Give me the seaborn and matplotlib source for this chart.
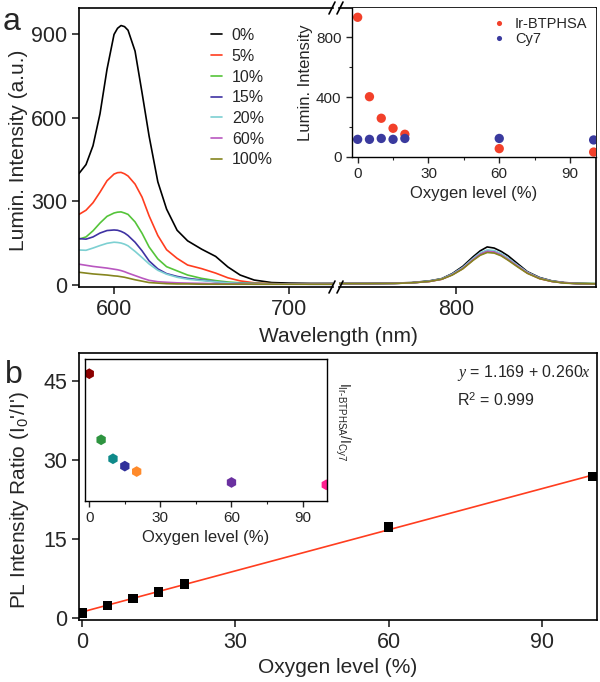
import numpy as np
import pandas as pd
import matplotlib
matplotlib.use('Agg')
import matplotlib.pyplot as plt
import seaborn as sns

sns.set_style('ticks')
plt.rcParams['font.family'] = ['Liberation Sans', 'DejaVu Sans']
plt.rcParams['mathtext.fontset'] = 'custom'
plt.rcParams['mathtext.rm'] = 'Liberation Sans'
plt.rcParams['mathtext.it'] = 'Liberation Serif:italic'
plt.rcParams['axes.linewidth'] = 1.2
plt.rcParams['axes.edgecolor'] = 'black'

# ---- panel a: emission spectra at different O2 levels ----
o2_labels = ['0%', '5%', '10%', '15%', '20%', '60%', '100%']
line_colors = ['#000000', '#ff3d1f', '#55c43a', '#3f32a3', '#7dd0d2', '#b957c0', '#85851f']

wl_left = [580, 584, 588, 592, 596, 600, 602, 604, 606, 608, 612, 616, 620, 625,
           630, 636, 642, 650, 658, 665, 672, 680, 690, 700, 712, 726]
spec_left = {
    '0%':   [400, 432, 500, 615, 775, 900, 922, 932, 928, 915, 840, 690, 535, 370,
             272, 196, 158, 128, 102, 64, 35, 17, 8, 6, 5, 5],
    '5%':   [253, 268, 295, 333, 374, 398, 403, 404, 399, 391, 362, 315, 248, 177,
             126, 95, 71, 58, 42, 25, 14, 7, 4, 3, 3, 3],
    '10%':  [164, 172, 194, 222, 246, 258, 261, 262, 258, 253, 226, 185, 136, 93,
             65, 50, 35, 23, 15, 10, 7, 5, 4, 3, 3, 3],
    '15%':  [166, 164, 172, 186, 195, 197, 196, 192, 186, 177, 153, 122, 86, 57,
             40, 30, 23, 17, 11, 7, 5, 4, 3, 3, 2, 2],
    '20%':  [125, 124, 132, 141, 149, 153, 152, 150, 146, 140, 120, 98, 75, 52,
             38, 27, 20, 15, 11, 7, 5, 4, 3, 3, 2, 2],
    '60%':  [74, 70, 66, 63, 60, 56, 54, 51, 47, 42, 33, 24, 16, 11,
             9, 7, 6, 5, 4, 3, 3, 2, 2, 2, 2, 2],
    '100%': [45, 42, 39, 37, 35, 32, 31, 29, 27, 24, 18, 13, 8, 6,
             4, 3, 3, 2, 2, 2, 2, 2, 2, 2, 2, 2],
}

wl_right = [733, 750, 765, 775, 785, 792, 798, 804, 810, 814, 818, 822,
            826, 830, 835, 841, 848, 855, 862, 870, 880]
spec_right = {
    '0%':   [5, 5, 6, 8, 14, 22, 40, 66, 101, 122, 136, 132, 120, 104, 78, 47, 26, 14, 8, 5, 4],
    '5%':   [4, 4, 5, 7, 12, 20, 36, 58, 90, 108, 118, 116, 106, 90, 68, 42, 22, 12, 7, 4, 3],
    '10%':  [4, 4, 5, 7, 13, 21, 37, 60, 92, 111, 121, 119, 109, 93, 70, 44, 24, 13, 7, 5, 4],
    '15%':  [4, 4, 5, 7, 13, 21, 38, 61, 94, 113, 123, 121, 110, 94, 71, 44, 24, 13, 7, 4, 3],
    '20%':  [4, 4, 5, 7, 13, 21, 38, 62, 95, 115, 125, 123, 112, 95, 72, 45, 24, 13, 7, 4, 3],
    '60%':  [4, 4, 5, 7, 12, 20, 36, 59, 91, 110, 120, 118, 107, 91, 69, 43, 23, 12, 7, 4, 3],
    '100%': [4, 4, 5, 7, 12, 20, 35, 57, 88, 106, 116, 114, 104, 88, 66, 41, 22, 12, 6, 4, 3],
}

# inset a: peak intensities
o2_levels = [0, 5, 10, 15, 20, 60, 100]
ir_int = [934, 403, 259, 192, 152, 56, 33]
cy7_int = [118, 118, 124, 118, 124, 124, 114]

# ---- panel b ----
ratio_pl = [0.9, 2.3, 3.7, 4.9, 6.4, 17.2, 26.8]
ratio_ir_cy7 = [7.9, 3.41, 2.12, 1.62, 1.25, 0.51, 0.35]
hex_colors = ['#8b0000', '#2e9440', '#0f8a8a', '#30309a', '#ff8a2a', '#6a30a0', '#ff1f8f']

W, H = 600, 682
def fx(px):
    return px / W
def fy(py):
    return 1 - py / H

df_left = pd.DataFrame([(w, v, k) for k in o2_labels for w, v in zip(wl_left, spec_left[k])],
                       columns=['wavelength', 'intensity', 'oxygen'])
df_right = pd.DataFrame([(w, v, k) for k in o2_labels for w, v in zip(wl_right, spec_right[k])],
                        columns=['wavelength', 'intensity', 'oxygen'])

fig = plt.figure(figsize=(6, 6.82), dpi=100)

top_b, top_t = 287, 8
ax_l = fig.add_axes([fx(79), fy(top_b), fx(333) - fx(79), fy(top_t) - fy(top_b)])
ax_r = fig.add_axes([fx(339), fy(top_b), fx(596) - fx(339), fy(top_t) - fy(top_b)])

sns.lineplot(data=df_left, x='wavelength', y='intensity', hue='oxygen', hue_order=o2_labels,
             palette=line_colors, estimator=None, sort=False, lw=1.2, ax=ax_l)
sns.lineplot(data=df_right, x='wavelength', y='intensity', hue='oxygen', hue_order=o2_labels,
             palette=line_colors, estimator=None, sort=False, lw=1.2, ax=ax_r, legend=False)

ylim_a = (-8, 995)
ax_l.set_xlim(580, 725)
ax_r.set_xlim(733.3, 880.2)
for a in (ax_l, ax_r):
    a.set_ylim(*ylim_a)
    a.set_xlabel('')
    a.set_ylabel('')
    a.tick_params(labelsize=15.5, length=5, width=1.2, direction='out')
ax_l.set_xticks([600, 700])
ax_r.set_xticks([800])
ax_l.set_yticks([0, 300, 600, 900])
ax_l.spines['right'].set_visible(False)
ax_r.spines['left'].set_visible(False)
ax_r.tick_params(axis='y', left=False, labelleft=False)

h, l = ax_l.get_legend_handles_labels()
ax_l.legend(h, l, loc='upper left', bbox_to_anchor=(fx(211), fy(28)), bbox_transform=fig.transFigure,
            frameon=False, fontsize=11.5, handlelength=0.7, handletextpad=0.6,
            labelspacing=0.36, borderpad=0, borderaxespad=0)

# break marks
def slash(xc, yc):
    fig.add_artist(plt.Line2D([fx(xc - 3), fx(xc + 3)], [fy(yc + 6), fy(yc - 6)],
                              color='black', lw=1.2))
for yc in (top_b, top_t):
    slash(332, yc)
    slash(340, yc)

fig.text(fx(338), fy(337), 'Wavelength (nm)', ha='center', va='center', fontsize=15)
fig.text(fx(19), fy(150), 'Lumin. Intensity (a.u.)', rotation=90, ha='center', va='center', fontsize=15)
fig.text(fx(3), fy(30), 'a', fontsize=23, va='baseline')

# inset a
ax_ia = fig.add_axes([fx(352), fy(157), fx(596) - fx(352), fy(top_t) - fy(157)])
ax_ia.set_facecolor('white')
df_in = pd.DataFrame({'oxygen': o2_levels * 2,
                      'intensity': ir_int + cy7_int,
                      'dye': ['Ir-BTPHSA'] * len(o2_levels) + ['Cy7'] * len(o2_levels)})
sns.scatterplot(data=df_in, x='oxygen', y='intensity', hue='dye', palette=['#f2402a', '#3a3a9e'],
                s=45, edgecolor='none', ax=ax_ia)
ax_ia.set_xlim(-2.4, 101)
ax_ia.set_ylim(0, 996)
ax_ia.set_xticks([0, 30, 60, 90])
ax_ia.set_xticks([15, 45, 75], minor=True)
ax_ia.set_yticks([0, 400, 800])
ax_ia.set_yticks([200, 600], minor=True)
ax_ia.tick_params(which='major', labelsize=11, length=4, width=1.0)
ax_ia.tick_params(which='minor', length=2, width=0.8)
ax_ia.spines['top'].set_visible(False)
ax_ia.spines['right'].set_visible(False)
for s in ('left', 'bottom'):
    ax_ia.spines[s].set_linewidth(1.0)
ax_ia.set_xlabel('Oxygen level (%)', fontsize=12, labelpad=3)
ax_ia.set_ylabel('Lumin. Intensity', fontsize=12, labelpad=2)
ax_ia.legend(loc='upper right', frameon=False, fontsize=10.5, markerscale=0.55,
             handletextpad=0.1, labelspacing=0.1, borderpad=0.4, borderaxespad=0.2)

# ---- panel b main ----
ax_b = fig.add_axes([fx(79), fy(620), fx(597) - fx(79), fy(353) - fy(620)])
sns.regplot(x=o2_levels, y=ratio_pl, ci=None, scatter=False, color='#ff3d1f',
            line_kws={'lw': 1.2}, ax=ax_b)
sns.scatterplot(x=o2_levels, y=ratio_pl, marker='s', s=45, color='black', edgecolor='none',
                zorder=3, ax=ax_b)
ax_b.set_xlim(-0.6, 100.8)
ax_b.set_ylim(-0.45, 50.3)
ax_b.set_xticks([0, 30, 60, 90])
ax_b.set_yticks([0, 15, 30, 45])
ax_b.tick_params(labelsize=15.5, length=5, width=1.2)
ax_b.set_xlabel('Oxygen level (%)', fontsize=15, labelpad=4)
ax_b.set_ylabel('')
fig.text(fx(20), fy(500), "PL Intensity Ratio (I$_{0}$'/I')", rotation=90, ha='center', va='center', fontsize=15)
fig.text(fx(5), fy(383), 'b', fontsize=23, va='baseline')
fig.text(fx(457), fy(373), r'$y$ = 1.169 + 0.260$x$', fontsize=11.5, va='center')
fig.text(fx(457), fy(400), r'R$^{2}$ = 0.999', fontsize=11.5, va='center')

# inset b
ax_ib = fig.add_axes([fx(85), fy(501), fx(327) - fx(85), fy(359) - fy(501)])
sns.scatterplot(x=o2_levels, y=ratio_ir_cy7, hue=o2_labels, palette=hex_colors, marker='h',
                s=60, edgecolor='none', legend=False, ax=ax_ib)
ax_ib.set_xlim(-1.8, 100.3)
ax_ib.set_ylim(-0.75, 8.9)
ax_ib.set_xticks([0, 30, 60, 90])
ax_ib.set_xticks([15, 45, 75], minor=True)
ax_ib.set_yticks([])
ax_ib.tick_params(which='major', labelsize=11, length=4, width=1.0)
ax_ib.tick_params(which='minor', length=2, width=0.8)
for s in ax_ib.spines.values():
    s.set_linewidth(1.0)
ax_ib.set_xlabel('Oxygen level (%)', fontsize=12, labelpad=3)
fig.text(fx(343), fy(422), r'$\mathregular{I_{Ir\text{-}BTPHSA}/I_{Cy7}}$', rotation=-90,
         ha='center', va='center', fontsize=10)

fig.savefig('out.png', dpi=100)
